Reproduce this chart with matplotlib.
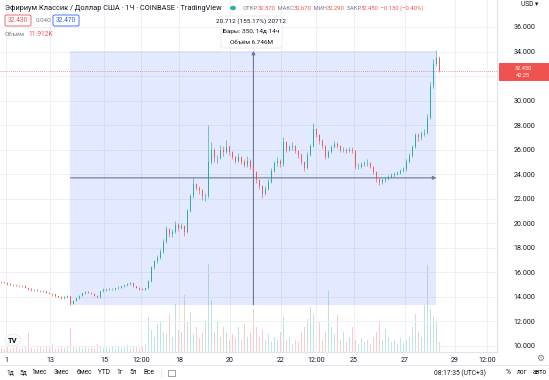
import matplotlib
matplotlib.use("Agg")
import matplotlib.pyplot as plt
from matplotlib.patches import Rectangle, FancyBboxPatch, Circle
import numpy as np

plt.rcParams['font.family'] = ['Roboto', 'DejaVu Sans']

# ---------------- data (3-hour candles) ----------------
first_open = 15.25
closes = [15.2, 15.15, 15.05, 15.0, 14.95, 14.9, 14.85, 14.9, 14.75, 14.65,
          14.55, 14.6, 14.5, 14.45, 14.5, 14.35, 14.25, 14.2, 14.05, 14.0,
          13.9, 14.0, 14.1, 13.45, 13.7, 13.9, 14.1, 14.3, 14.4, 14.35,
          14.25, 14.1, 14.0, 14.45, 14.6, 14.6, 14.65, 14.65, 14.7, 14.75,
          14.85, 14.95, 15.05, 15.1, 14.85, 14.75, 14.65, 14.6, 14.7, 15.3,
          16.4, 16.9, 17.2, 17.7, 18.5, 19.5, 19.1, 19.3, 19.9, 19.6,
          19.8, 19.3, 21.0, 22.2, 23.2, 22.9, 22.7, 22.2, 22.2, 25.0,
          26.0, 25.3, 25.3, 26.0, 25.8, 26.2, 25.8, 25.4, 25.1, 25.4,
          25.0, 24.75, 25.1, 24.6, 24.2, 23.5, 23.0, 22.4, 22.8, 23.4,
          24.3, 24.9, 25.1, 24.8, 26.6, 26.0, 26.2, 26.3, 25.9, 25.6,
          25.0, 24.5, 25.6, 26.3, 27.7, 27.2, 26.7, 26.3, 25.4, 25.8,
          26.2, 26.5, 26.3, 26.0, 26.0, 25.9, 26.0, 25.9, 24.6, 24.6,
          24.8, 24.9, 24.9, 24.6, 24.2, 23.6, 23.4, 23.5, 23.6, 23.8,
          23.9, 24.0, 24.1, 24.3, 24.4, 25.0, 25.5, 26.2, 27.2, 27.0,
          27.3, 27.4, 28.6, 31.2, 33.0, 33.5, 32.45]
highs = [15.3, 15.25, 15.2, 15.1, 15.05, 15.0, 14.95, 14.95, 14.95, 14.8,
         14.7, 14.65, 14.65, 14.55, 14.55, 14.5, 14.4, 14.3, 14.2, 14.1,
         14.05, 14.05, 14.15, 14.1, 13.75, 13.95, 14.15, 14.35, 14.5, 14.45,
         14.4, 14.3, 14.15, 14.5, 14.7, 14.7, 14.7, 14.75, 14.75, 14.85,
         14.9, 15.0, 15.1, 15.2, 15.1, 14.9, 14.8, 14.7, 14.75, 15.4,
         16.5, 17.0, 17.4, 17.9, 18.7, 19.8, 19.6, 19.5, 20.2, 20.0,
         20.0, 19.9, 21.2, 22.4, 23.7, 23.3, 23.0, 22.8, 22.5, 28.0,
         26.6, 26.1, 25.6, 26.4, 26.3, 26.8, 26.4, 25.9, 25.5, 25.7,
         25.5, 25.2, 25.5, 25.2, 24.8, 24.3, 23.6, 23.1, 23.0, 23.6,
         24.5, 25.1, 25.4, 25.2, 27.0, 26.7, 26.4, 26.6, 26.4, 26.0,
         25.7, 25.1, 25.8, 26.5, 28.2, 27.8, 27.3, 26.9, 26.4, 26.0,
         26.4, 26.7, 26.6, 26.4, 26.2, 26.1, 26.2, 26.2, 26.0, 24.9,
         25.0, 25.1, 25.2, 25.0, 24.7, 24.3, 23.7, 23.7, 23.8, 23.9,
         24.1, 24.2, 24.3, 24.4, 24.6, 25.2, 25.7, 26.4, 27.4, 27.4,
         27.5, 27.7, 28.9, 31.5, 33.4, 34.1, 33.6]
lows = [15.15, 15.1, 15.0, 14.95, 14.9, 14.85, 14.8, 14.8, 14.7, 14.6,
        14.5, 14.5, 14.45, 14.4, 14.4, 14.3, 14.2, 14.1, 14.0, 13.95,
        13.85, 13.85, 13.95, 13.35, 13.4, 13.65, 13.85, 14.05, 14.25, 14.3,
        14.2, 14.05, 13.95, 13.95, 14.4, 14.5, 14.55, 14.6, 14.6, 14.65,
        14.7, 14.8, 14.9, 15.0, 14.8, 14.7, 14.6, 14.55, 14.55, 14.65,
        15.2, 16.3, 16.8, 17.1, 17.6, 18.4, 18.9, 18.9, 19.2, 19.4,
        19.5, 19.0, 19.2, 20.9, 22.1, 22.7, 22.4, 21.9, 21.8, 22.1,
        24.8, 25.0, 24.9, 25.2, 25.5, 25.7, 25.6, 25.2, 24.9, 25.0,
        24.8, 24.6, 24.6, 24.4, 24.0, 23.3, 22.8, 22.1, 22.3, 22.7,
        23.3, 24.2, 24.7, 24.6, 24.7, 25.8, 25.9, 26.0, 25.7, 25.3,
        24.8, 24.3, 24.4, 25.5, 26.2, 27.0, 26.5, 26.1, 25.2, 25.3,
        25.7, 26.1, 26.1, 25.8, 25.8, 25.7, 25.8, 25.7, 24.4, 24.4,
        24.5, 24.7, 24.7, 24.5, 24.0, 23.4, 23.1, 23.2, 23.4, 23.5,
        23.7, 23.8, 23.9, 24.0, 24.2, 24.3, 24.9, 25.4, 26.1, 26.7,
        26.8, 27.1, 27.3, 28.5, 31.0, 32.8, 32.3]
volumes = [4, 3, 5, 3, 4, 6, 3, 4, 5, 19,
           4, 3, 4, 5, 3, 6, 4, 8, 3, 4,
           5, 4, 6, 24, 6, 4, 5, 3, 6, 4,
           5, 3, 8, 5, 4, 6, 4, 5, 3, 6,
           4, 5, 7, 4, 5, 6, 4, 5, 8, 35,
           22, 15, 28, 30, 20, 18, 38, 15, 48, 22,
           20, 57, 30, 40, 18, 25, 14, 20, 30, 88,
           52, 20, 30, 15, 25, 20, 12, 18, 14, 25,
           12, 28, 15, 20, 43, 25, 15, 22, 12, 18,
           10, 15, 12, 20, 35, 12, 15, 8, 12, 10,
           20, 25, 33, 45, 38, 15, 30, 12, 20, 61,
           25, 18, 37, 12, 20, 10, 15, 25, 12, 8,
           14, 10, 12, 8, 15, 20, 30, 12, 23, 15,
           10, 12, 8, 14, 10, 12, 15, 25, 38, 20,
           15, 47, 87, 43, 35, 30, 10]

price_ticks = [10, 12, 14, 16, 18, 20, 22, 24, 26, 28, 30, 32, 34, 36]
time_tick_labels = ["1", "13", "15", "12:00", "18", "20", "22", "12:00",
                    "25", "27", "29", "12:00"]
time_tick_bars = [1.5, 16.2, 34.2, 46.5, 59.2, 76.2, 93.2, 104.8,
                  117.5, 134.5, 151.2, 161.8]

last_price = 32.45
measure_start_bar = 23
measure_end_bar = 145
measure_start_price = 13.348
measure_change = 20.712

# ---------------- figure ----------------
W, H = 549, 380
fig = plt.figure(figsize=(W / 100, H / 100), dpi=100)
fig.patch.set_facecolor('white')


def fx(x):
    return x / W


def fy(y):
    return 1 - y / H


UP = '#26a69a'
DOWN = '#ef5350'
GRID = '#eef0f5'
TXT = '#131722'
GRAY = '#787b86'

rect = [0, 28 / H, 497 / W, 352 / H]
axv = fig.add_axes(rect)
ax = fig.add_axes(rect, sharex=axv)
ax.patch.set_alpha(0)

xlim = (-0.5, 165.2)
axv.set_xlim(*xlim)
axv.set_ylim(0, 352)
for s in axv.spines.values():
    s.set_visible(False)
axv.tick_params(left=False, labelleft=False, bottom=False, labelbottom=False)

idx = np.arange(len(closes))
opens = np.array([first_open] + closes[:-1])
cl = np.array(closes)
up = cl >= opens
cols = np.where(up, UP, DOWN)

axv.bar(idx, volumes, width=0.6, color=cols, alpha=0.3, linewidth=0)

# price axes
ax.set_ylim(9.51, 38.2)
ax.set_xlim(*xlim)
ax.yaxis.tick_right()
ax.set_yticks(price_ticks)
# the tick label hidden behind the last-price badge is left blank
ax.set_yticklabels(["" if abs(v - last_price) < 1 else f"{v:.3f}" for v in price_ticks])
ax.set_xticks(time_tick_bars)
ax.set_xticklabels(time_tick_labels)
ax.tick_params(axis='y', length=0, pad=12, labelsize=5.1, colors=TXT)
ax.tick_params(axis='x', length=0, pad=3.5, labelsize=5.1, colors=TXT)
ax.grid(True, color=GRID, lw=0.7, zorder=0)
ax.set_axisbelow(True)
for k in ['top', 'left']:
    ax.spines[k].set_visible(False)
ax.spines['right'].set_color('#e0e3eb')
ax.spines['bottom'].set_color('#e0e3eb')
ax.spines['right'].set_linewidth(0.8)
ax.spines['bottom'].set_linewidth(0.8)

# measurement rectangle
ax.add_patch(Rectangle((measure_start_bar, measure_start_price),
                       measure_end_bar - measure_start_bar, measure_change,
                       facecolor='#2962ff', alpha=0.13, lw=0, zorder=1))
mid_x = (measure_start_bar + measure_end_bar) / 2
mid_y = measure_start_price + measure_change / 2
LINE = '#66799a'
ax.annotate('', xy=(measure_end_bar, mid_y), xytext=(measure_start_bar, mid_y),
            arrowprops=dict(arrowstyle='-|>', color=LINE, lw=0.8,
                            mutation_scale=5, shrinkA=0, shrinkB=0), zorder=2)
ax.annotate('', xy=(mid_x, measure_start_price + measure_change),
            xytext=(mid_x, measure_start_price),
            arrowprops=dict(arrowstyle='-|>', color=LINE, lw=0.8,
                            mutation_scale=5, shrinkA=0, shrinkB=0), zorder=2)

# candles
ax.vlines(idx, lows, highs, colors=cols, lw=0.5, alpha=0.85, zorder=3)
ax.bar(idx, cl - opens, bottom=opens, width=0.4, color=cols, alpha=0.85,
       linewidth=0, zorder=4)

# last price line
ax.axhline(last_price, color=DOWN, lw=0.6, ls=(0, (1, 1.5)), alpha=0.8, zorder=2)

# ---------------- header texts ----------------
fig.text(fx(5), fy(8), "Эфириум Классик / Доллар США · 1Ч · COINBASE · TradingView",
         fontsize=5.3, color=TXT, va='center', ha='left')
fig.add_artist(Circle((fx(233), fy(8)), 2.2 / W, transform=fig.transFigure,
                      color='#22ab94', alpha=0.9))
x0 = 243
parts = [("ОТКР", GRAY), ("32.570", DOWN), (" МАКС", GRAY), ("32.670", DOWN),
         (" МИН", GRAY), ("32.290", DOWN), (" ЗАКР", GRAY), ("32.450", DOWN),
         (" −0.130 (−0.40%)", DOWN)]
fig.canvas.draw()
r = fig.canvas.get_renderer()
cx = x0
for t, c in parts:
    tx = fig.text(fx(cx), fy(8), t, fontsize=4.2, color=c, va='center', ha='left')
    bb = tx.get_window_extent(renderer=r)
    cx += bb.width

# row 2 boxes
fig.add_artist(FancyBboxPatch((fx(5), fy(26)), 26 / W, 11 / H, transform=fig.transFigure,
                              boxstyle='round,pad=0,rounding_size=0.003',
                              facecolor='white', edgecolor=DOWN, lw=0.6))
fig.text(fx(18), fy(20.5), "32.430", fontsize=4.8, color=DOWN, ha='center', va='center')
fig.text(fx(43), fy(20.5), "0.040", fontsize=4.5, color=GRAY, ha='center', va='center')
fig.add_artist(FancyBboxPatch((fx(53), fy(26)), 26 / W, 11 / H, transform=fig.transFigure,
                              boxstyle='round,pad=0,rounding_size=0.003',
                              facecolor='white', edgecolor='#2962ff', lw=0.6))
fig.text(fx(66), fy(20.5), "32.470", fontsize=4.8, color='#2962ff', ha='center', va='center')
fig.text(fx(5), fy(34), "Объём", fontsize=4.6, color=GRAY, ha='left', va='center')
fig.text(fx(28), fy(34), "11.912K", fontsize=4.8, color=DOWN, ha='left', va='center')

# tooltip of the measurement
fig.add_artist(FancyBboxPatch((fx(221), fy(48)), 61 / W, 32 / H, transform=fig.transFigure,
                              boxstyle='round,pad=0,rounding_size=0.004',
                              facecolor='white', edgecolor='#e6e8ee', lw=0.6))
fig.text(fx(251.5), fy(21), "20.712 (155.17%) 20712", fontsize=4.6, color=TXT,
         ha='center', va='center')
fig.text(fx(251.5), fy(31.5), "Бары: 350, 14д 14ч", fontsize=4.6, color=TXT,
         ha='center', va='center')
fig.text(fx(251.5), fy(42), "Объём 6.746M", fontsize=4.6, color=TXT,
         ha='center', va='center')

# right axis extras
fig.text(fx(530), fy(5), "USD ▾", fontsize=4.8, color=TXT, ha='center', va='center')
fig.add_artist(Rectangle((fx(499), fy(80.5)), 50 / W, 17 / H, transform=fig.transFigure,
                         facecolor=DOWN, edgecolor='none'))
fig.text(fx(523), fy(72), "32.450\n42:25", fontsize=4.1, color='white', ha='center',
         va='center', linespacing=1.35)
fig.text(fx(540), fy(358), "⚙", fontsize=6.5, color=GRAY, ha='center', va='center',
         family='DejaVu Sans')

# TV logo
fig.add_artist(Circle((fx(13), fy(340)), 8 / W, transform=fig.transFigure,
                      facecolor='white', edgecolor='#e0e3eb', lw=0.5))
fig.text(fx(13), fy(340.5), "TV", fontsize=5.5, color=TXT, weight='bold',
         ha='center', va='center')

# bottom toolbar
fig.add_artist(plt.Line2D([0, 1], [fy(365), fy(365)], transform=fig.transFigure,
                          color='#e0e3eb', lw=0.6))
for t, x in [("1д", 10), ("5д", 23), ("1мес", 39), ("3мес", 61), ("6мес", 84),
             ("YTD", 104), ("1г", 120), ("5л", 133), ("Все", 149)]:
    fig.text(fx(x), fy(373), t, fontsize=4.8, color=TXT, ha='center', va='center')
fig.add_artist(plt.Line2D([fx(161), fx(161)], [fy(369), fy(377)], transform=fig.transFigure,
                          color='#e0e3eb', lw=0.6))
fig.add_artist(Rectangle((fx(168), fy(376)), 7 / W, 6 / H, transform=fig.transFigure,
                         facecolor='none', edgecolor=GRAY, lw=0.5))
fig.text(fx(460), fy(373), "08:17:35 (UTC+3)", fontsize=4.8, color=TXT, ha='center', va='center')
fig.text(fx(508), fy(373), "%", fontsize=4.8, color=TXT, ha='center', va='center')
fig.text(fx(522), fy(373), "лог", fontsize=4.8, color=TXT, ha='center', va='center')
fig.text(fx(540), fy(373), "авто", fontsize=4.8, color=TXT, ha='center', va='center')

fig.savefig("out.png", dpi=100)
